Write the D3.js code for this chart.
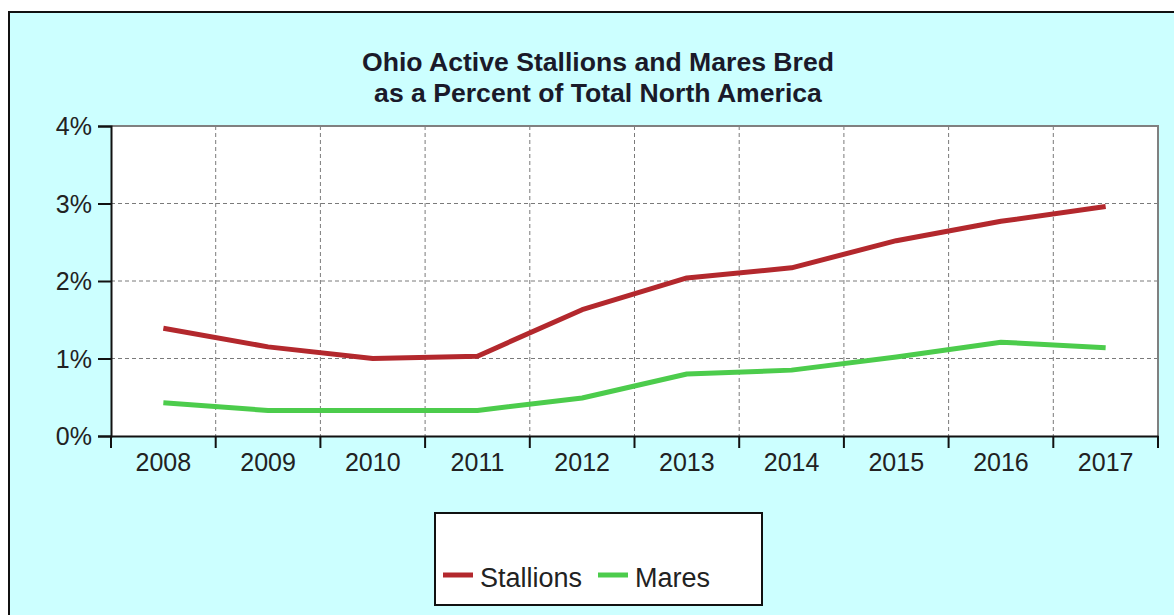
<!DOCTYPE html>
<html>
<head>
<meta charset="utf-8">
<script src="https://cdn.jsdelivr.net/npm/d3@7"></script>
<style>
  html, body { margin: 0; padding: 0; background: #ffffff; }
  svg { display: block; }
  text { font-family: "Liberation Sans", Arial, sans-serif; }
</style>
</head>
<body>
<svg id="chart" width="1174" height="615"></svg>
<script>
const years = ["2008","2009","2010","2011","2012","2013","2014","2015","2016","2017"];
const stallions = [0.0139, 0.0115, 0.0100, 0.0103, 0.0163, 0.0204, 0.0217, 0.0252, 0.0277, 0.0296];
const mares = [0.0043, 0.0033, 0.0033, 0.0033, 0.0049, 0.0080, 0.0085, 0.0102, 0.0121, 0.0114];
const yTicks = [0, 0.01, 0.02, 0.03, 0.04];
const titleLines = ["Ohio Active Stallions and Mares Bred", "as a Percent of Total North America"];
const seriesNames = ["Stallions", "Mares"];
const seriesColors = ["#b3282d", "#4ccc4c"];

const svg = d3.select("#chart");

// chart background + outer frame
svg.append("rect").attr("x", 9).attr("y", 12).attr("width", 1180).attr("height", 620)
  .attr("fill", "#ccffff").attr("stroke", "#111").attr("stroke-width", 2);

const pLeft = 111, pRight = 1158, pTop = 126, pBottom = 436;

const x = d3.scaleBand().domain(years).range([pLeft, pRight]).padding(0);
const y = d3.scaleLinear().domain([0, 0.04]).range([pBottom, pTop]);

// plot area
svg.append("rect").attr("x", pLeft).attr("y", pTop).attr("width", pRight - pLeft).attr("height", pBottom - pTop)
  .attr("fill", "#ffffff");

// gridlines
const boundaries = years.map(d => x(d)).concat([pRight]);
const grid = svg.append("g").attr("stroke", "#7a7a7a").attr("stroke-width", 1).attr("stroke-dasharray", "4,3");
grid.selectAll("line.v").data(boundaries.slice(1, -1)).enter().append("line")
  .attr("x1", d => d).attr("x2", d => d).attr("y1", pTop).attr("y2", pBottom);
grid.selectAll("line.h").data(yTicks.slice(1, -1)).enter().append("line")
  .attr("x1", pLeft).attr("x2", pRight).attr("y1", d => y(d)).attr("y2", d => y(d));

// plot frame top & right
svg.append("path").attr("d", `M${pLeft},${pTop}H${pRight}V${pBottom}`).attr("fill", "none")
  .attr("stroke", "#808080").attr("stroke-width", 2);

// y axis
const yAxis = svg.append("g").attr("transform", `translate(${pLeft},0)`)
  .call(d3.axisLeft(y).tickValues(yTicks).tickFormat(d3.format(".0%")).tickSize(13).tickPadding(6));
yAxis.select(".domain").attr("stroke", "#111").attr("stroke-width", 2);
yAxis.selectAll(".tick line").attr("stroke", "#111").attr("stroke-width", 2);
yAxis.selectAll(".tick text").attr("font-size", 25).attr("fill", "#222").attr("dy", "0.35em")
  .style("font-family", "'Liberation Sans', Arial, sans-serif");

// x axis labels
const xAxis = svg.append("g").attr("transform", `translate(0,${pBottom})`)
  .call(d3.axisBottom(x).tickSize(0).tickPadding(17));
xAxis.select(".domain").attr("stroke", "#111").attr("stroke-width", 2);
xAxis.selectAll(".tick text").attr("font-size", 25).attr("fill", "#222")
  .style("font-family", "'Liberation Sans', Arial, sans-serif");
// x boundary ticks
svg.append("g").selectAll("line").data(boundaries).enter().append("line")
  .attr("x1", d => d).attr("x2", d => d).attr("y1", pBottom).attr("y2", pBottom + 12)
  .attr("stroke", "#111").attr("stroke-width", 2);

// lines
const line = d3.line().x((d, i) => x(years[i]) + x.bandwidth() / 2).y(d => y(d));
[stallions, mares].forEach((s, k) => {
  svg.append("path").datum(s).attr("d", line).attr("fill", "none")
    .attr("stroke", seriesColors[k]).attr("stroke-width", 5)
    .attr("stroke-linejoin", "round");
});

// title
const title = svg.append("text").attr("text-anchor", "middle").attr("font-weight", "bold")
  .attr("font-size", 26.6).attr("fill", "#1a1a2a");
titleLines.forEach((t, i) => {
  title.append("tspan").attr("x", 598).attr("y", 71 + i * 31).text(t);
});

// legend
const lg = svg.append("g");
lg.append("rect").attr("x", 435).attr("y", 513).attr("width", 327).attr("height", 92)
  .attr("fill", "#ffffff").attr("stroke", "#111").attr("stroke-width", 2);
const legendX = [443, 598];
seriesNames.forEach((n, k) => {
  lg.append("line").attr("x1", legendX[k]).attr("x2", legendX[k] + 30).attr("y1", 575).attr("y2", 575)
    .attr("stroke", seriesColors[k]).attr("stroke-width", 5);
  lg.append("text").attr("x", legendX[k] + 37).attr("y", 587).attr("font-size", 27).attr("fill", "#222")
    .text(n);
});
</script>
</body>
</html>
